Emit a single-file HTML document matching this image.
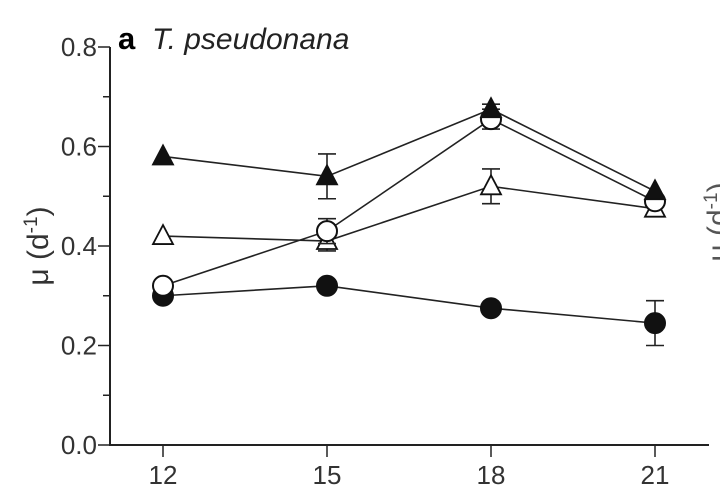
<!DOCTYPE html>
<html><head><meta charset="utf-8"><style>
body{margin:0;background:#fff}
svg{display:block;font-family:"Liberation Sans",Arial,sans-serif}
</style></head><body>
<svg id="c" width="720" height="492" viewBox="0 0 720 492">
<text x="118" y="49" font-size="31" font-weight="bold">a</text>
<text x="152" y="49" font-size="30" font-style="italic" fill="#222">T. pseudonana</text>
<text transform="translate(48,246) rotate(-90)" text-anchor="middle" font-size="30" fill="#333">μ (d<tspan dy="-11" font-size="19">-1</tspan><tspan dy="11">)</tspan></text>
<text transform="translate(728,222) rotate(-90)" text-anchor="middle" font-size="30" fill="#555">μ (d<tspan dy="-11" font-size="19">-1</tspan><tspan dy="11">)</tspan></text>
<g id="axes"></g><g id="marks"></g>
</svg>
<script>
const xCats=[12,15,18,21];
const yTicks=[0,0.2,0.4,0.6,0.8];
const filledTri=[0.58,0.54,0.675,0.51];
const filledTriErr=[0,0.045,0.01,0];
const openCirc=[0.32,0.43,0.655,0.49];
const openCircErr=[0,0.025,0.02,0];
const openTri=[0.42,0.41,0.52,0.475];
const openTriErr=[0,0.02,0.035,0];
const filledCirc=[0.30,0.32,0.275,0.245];
const filledCircErr=[0,0,0,0.045];
const NS="http://www.w3.org/2000/svg";
const X=v=>163+(v-12)*(328/6);
const Y=v=>445-v*497.5;
function mk(t,a,p){const e=document.createElementNS(NS,t);for(const k in a)e.setAttribute(k,a[k]);p.appendChild(e);return e;}
const ax=document.getElementById('axes'),mg=document.getElementById('marks');
let e=mk('line',{x1:110,y1:47,x2:110,y2:446,stroke:'#222','stroke-width':2},ax);

e=mk('line',{x1:109,y1:445,x2:709,y2:445,stroke:'#222','stroke-width':2},ax);

for(let v=0;v<=8;v++){const y=Y(v/10);const l=v%2==0?12:7;
 e=mk('line',{x1:110-l,y1:y,x2:110,y2:y,stroke:'#222','stroke-width':1.5},ax);
 }
yTicks.forEach(v=>{e=mk('text',{x:97,y:Y(v)+9,'text-anchor':'end','font-size':26,fill:'#333'},ax);e.textContent=v.toFixed(1);
 });
xCats.forEach(c=>{const x=X(c);e=mk('line',{x1:x,y1:445,x2:x,y2:457,stroke:'#222','stroke-width':1.5},ax);
 
 e=mk('text',{x:x,y:484,'text-anchor':'middle','font-size':26,fill:'#333'},ax);e.textContent=c;
 });
function series(vals,errs,shape,fill,name){
 const g=mk('g',{},mg);
 const pts=vals.map((v,i)=>X(xCats[i])+','+Y(v)).join(' ');
 e=mk('polyline',{points:pts,fill:'none',stroke:'#222','stroke-width':1.6},g);
 
 vals.forEach((v,i)=>{const x=X(xCats[i]),y=Y(v);
  if(errs[i]>0){const t=Y(v+errs[i]),b=Y(v-errs[i]);
   e=mk('path',{d:`M${x},${t}V${b}M${x-9},${t}H${x+9}M${x-9},${b}H${x+9}`,stroke:'#222','stroke-width':1.6,fill:'none'},g);
   }
  if(shape=='c')e=mk('circle',{cx:x,cy:y,r:10,fill:fill,stroke:'#111','stroke-width':2},g);
  else e=mk('polygon',{points:`${x},${y-11} ${x+10},${y+8} ${x-10},${y+8}`,fill:fill,stroke:'#111','stroke-width':1.8},g);
  });
}
series(filledCirc,filledCircErr,'c','#111','filled-circle-series');
series(openTri,openTriErr,'t','#fff','open-triangle-series');
series(openCirc,openCircErr,'c','#fff','open-circle-series');
series(filledTri,filledTriErr,'t','#111','filled-triangle-series');
</script>
</body></html>
